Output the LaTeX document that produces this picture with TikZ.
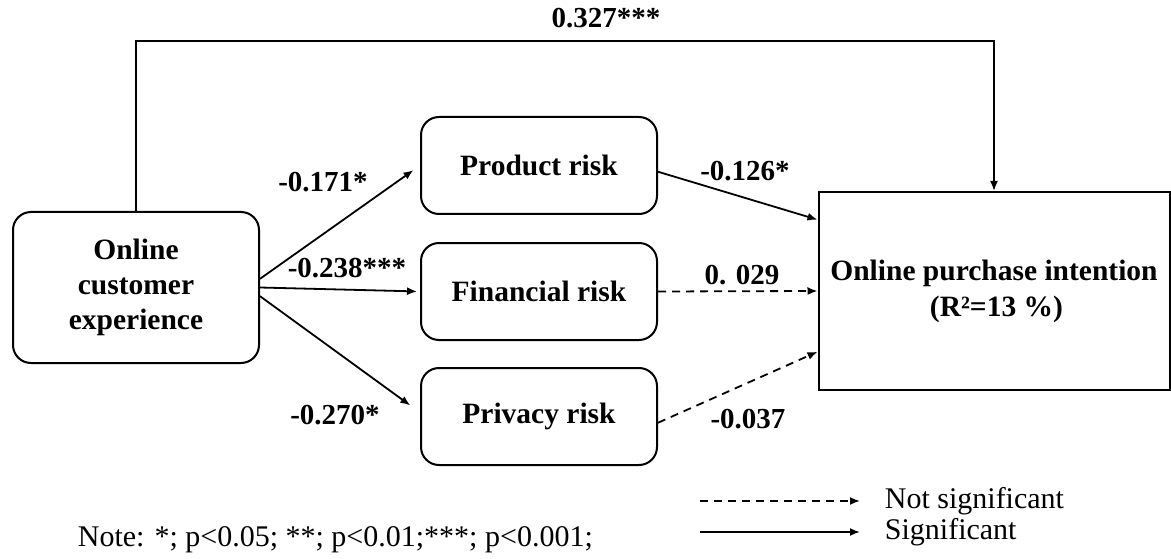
\documentclass[tikz,border=0pt]{standalone}
\usepackage{fontspec}
\setmainfont{Liberation Serif}
\usetikzlibrary{arrows.meta}
\begin{document}
\begin{tikzpicture}[x=1pt,y=-1pt,
  line width=1.8pt,
  box/.style={draw, line width=2pt, rounded corners=18pt, minimum width=236pt, minimum height=97pt,
    align=center, font=\bfseries\fontsize{29.5}{35}\selectfont, inner sep=0pt},
  lbl/.style={font=\bfseries\fontsize{29}{35}\selectfont, inner sep=0pt},
  txt/.style={font=\fontsize{30}{35}\selectfont, inner sep=0pt},
  arr/.style={-{Latex[length=10pt,width=8pt]}},
  dsh/.style={dash pattern=on 8pt off 6pt}]
\useasboundingbox (0,0) rectangle (1171,559);
% boxes
\node[box, minimum width=246pt, minimum height=151pt] (oce) at (136,287.5) {Online\\customer\\experience};
\node[box] (prod) at (539,165.5) {Product risk};
\node[box] (fin) at (539,291.5) {Financial risk};
\node[box] (priv) at (539,416.5) {Privacy risk};
\node[box, rounded corners=0pt, minimum width=351pt, minimum height=198pt, font=\bfseries\fontsize{29.5}{36}\selectfont] (opi) at (994,291) {Online purchase intention\\\,(R²=13 \%)};
% top path
\draw[arr] (oce.north) -- ++(0,-170) -| (opi.north);
\node[lbl] (ltop) at (606,18) {0.327***};
% from OCE
\draw[arr, shorten >=8pt] (oce.4) -- (prod.west);
\draw[arr, shorten >=3pt] (oce.east) -- (fin.west);
\draw[arr, shorten >=12pt] (oce.-4) -- ([yshift=4pt]priv.west);
\node[lbl] (l1) at (323,182) {-0.171*};
\node[lbl] (l2) at (347,268) {-0.238***};
\node[lbl] (l3) at (335,415) {-0.270*};
% to OPI
\draw[arr] (prod.-3) -- (opi.158);
\draw[arr, dsh] (fin.east) -- (opi.west);
\draw[arr, dsh] (priv.-3) -- (opi.199);
\node[lbl] (l4) at (745,171) {-0.126*};
\node[lbl] (l5) at (742,275) {0. 029};
\node[lbl] (l6) at (748,419) {-0.037};
% legend
\coordinate (ld1) at (700,501);
\coordinate (ld2) at (860,501);
\coordinate (ls1) at (700,532);
\coordinate (ls2) at (860,532);
\draw[arr, dsh] (ld1) -- (ld2);
\draw[arr] (ls1) -- (ls2);
\node[txt, anchor=west] (tns) at (884,501) {Not significant};
\node[txt, anchor=west] (tsg) at (884,532) {Significant};
\node[txt, anchor=west] (note) at (77,540) {Note: *; p<0.05; **; p<0.01;***; p<0.001;};
\end{tikzpicture}
\end{document}
